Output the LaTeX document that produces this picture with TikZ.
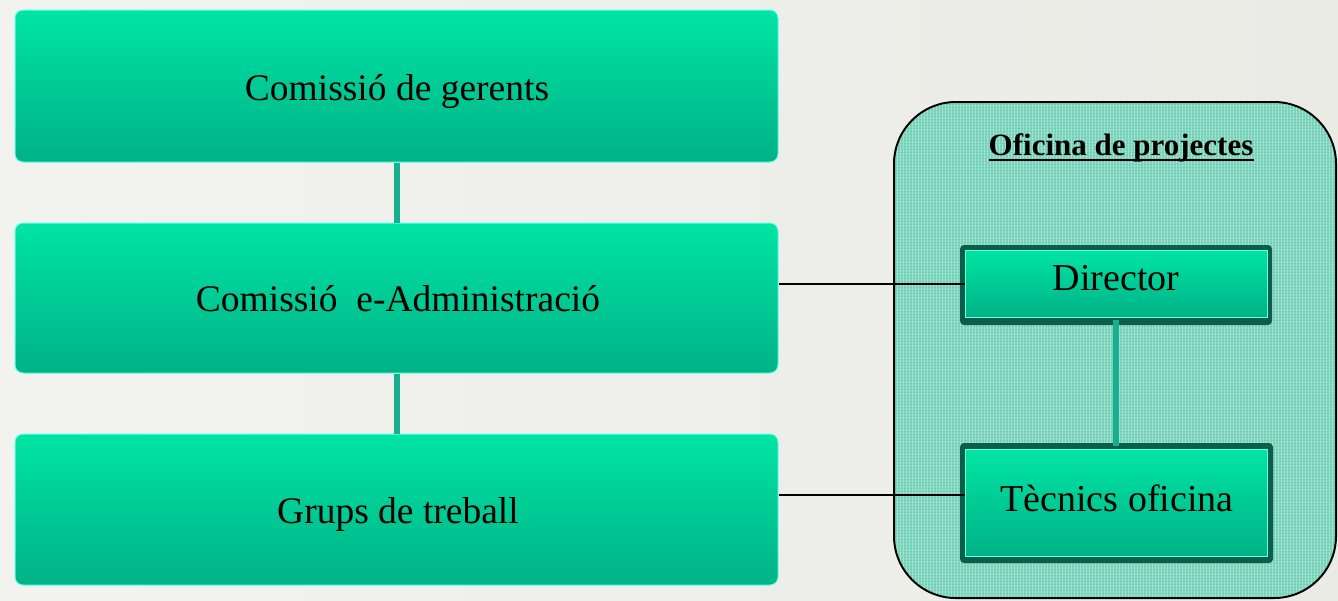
\documentclass[tikz,border=0pt]{standalone}
\usepackage{fontspec}
\setmainfont{Liberation Serif}
\usetikzlibrary{patterns}
\definecolor{bgc}{HTML}{EAEBE5}
\definecolor{gtop}{HTML}{00E4A4}
\definecolor{gbot}{HTML}{00B286}
\definecolor{hil}{HTML}{60FFE8}
\definecolor{dshadow}{HTML}{0B5E4A}
\definecolor{offc}{HTML}{80D6BC}
\definecolor{link}{HTML}{16B090}
\begin{document}
\begin{tikzpicture}[x=1pt,y=-1pt,
  gbox/.style={rectangle, rounded corners=8pt, top color=gtop, bottom color=gbot,
    draw=hil, line width=1pt, inner sep=0pt},
  sbox/.style={rectangle, top color=gtop, bottom color=gbot, draw=hil, line width=1pt,
    inner sep=0pt},
  btext/.style={anchor=base, font=\fontsize{37.5}{44}\selectfont, inner sep=0pt},
  stext/.style={anchor=base, font=\fontsize{38}{44}\selectfont, inner sep=0pt},
  vlink/.style={draw=link, line width=6pt},
  hlink/.style={draw=black, line width=2pt}]
\useasboundingbox (0,0) rectangle (1338,600);
\shade[left color=bgc!60!white, right color=bgc] (0,0) rectangle (1338,600);
% left column
\node[gbox, minimum width=763pt, minimum height=152pt] (b1) at (396.5,86) {};
\node[gbox, minimum width=763pt, minimum height=150pt] (b2) at (396.5,298) {};
\node[gbox, minimum width=763pt, minimum height=151pt] (b3) at (396.5,509.5) {};
\node[btext] (t1) at (397,100) {Comissió de gerents};
\node[btext] (t2) at (398,311) {Comissió\ \ e-Administració};
\node[btext] (t3) at (398,523) {Grups de treball};
\draw[vlink] (b1.south) -- (b2.north);
\draw[vlink] (b2.south) -- (b3.north);
% office
\node[rectangle, rounded corners=62pt, draw=black, line width=2pt, fill=offc,
  minimum width=442pt, minimum height=496pt] (off) at (1115,350) {};
\begin{scope}
\clip[rounded corners=61pt] (895,103) rectangle (1335,597);
\fill[pattern=horizontal lines, pattern color=link!70, opacity=0.5] (895,103) rectangle (1335,597);
\fill[pattern=vertical lines, pattern color=white, opacity=0.3] (895,103) rectangle (1335,597);
\end{scope}
\node[anchor=base, inner sep=0pt, font=\bfseries\fontsize{31}{36}\selectfont] (title) at (1121,155)
  {Oficina de projectes};
\draw[black, line width=2.5pt] ([yshift=-5pt]title.base west) -- ([yshift=-5pt]title.base east);
% shadows of small boxes
\fill[dshadow, rounded corners=4pt] (960,245) rectangle (1272,325);
\fill[dshadow, rounded corners=4pt] (960,443) rectangle (1273,563);
\draw[vlink] (1116,320) -- (1116,446);
\node[sbox, minimum width=302pt, minimum height=67pt] (dir) at (1116,283.5) {};
\node[stext] at (1116,290) {Director};
\node[sbox, minimum width=302pt, minimum height=107pt] (tec) at (1116.5,503) {};
\node[stext] at (1117,511) {Tècnics oficina};
\draw[hlink] (dir.west) -- (dir.west -| b2.east);
\draw[hlink] ([yshift=8pt]tec.west) -- ([yshift=8pt]tec.west -| b3.east);
\end{tikzpicture}
\end{document}
